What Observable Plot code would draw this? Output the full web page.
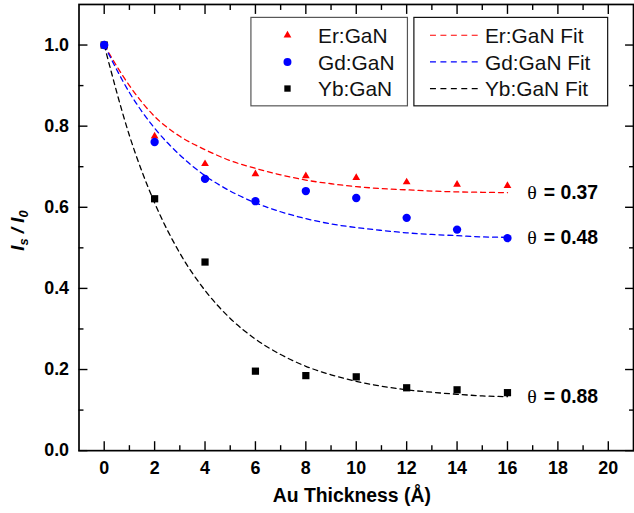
<!DOCTYPE html>
<html>
<head>
<meta charset="utf-8">
<script src="https://cdn.jsdelivr.net/npm/d3@7"></script>
<script src="https://cdn.jsdelivr.net/npm/@observablehq/plot@0.6"></script>
<style>
  html, body { margin: 0; padding: 0; background: #fff; overflow: hidden; }
  #chart { position: relative; width: 634px; height: 513px; overflow: hidden; }
</style>
</head>
<body>
<div id="chart"></div>
<script>
// Au thickness (Å) at which the normalised intensity was measured
const thickness = [0, 2, 4, 6, 8, 10, 12, 14, 16];

// Measured Is / I0 for each rare-earth doped GaN sample
const erGaN = [1.0, 0.775, 0.707, 0.682, 0.677, 0.673, 0.662, 0.656, 0.653];
const gdGaN = [1.0, 0.761, 0.670, 0.615, 0.640, 0.623, 0.574, 0.545, 0.524];
const ybGaN = [1.0, 0.621, 0.465, 0.196, 0.185, 0.182, 0.155, 0.150, 0.143];

// Fitted curves, sampled every 1 Å
const fitThickness = [0, 1, 2, 3, 4, 5, 6, 7, 8, 9, 10, 11, 12, 13, 14, 15, 16];
const erFit = [1.0, 0.900, 0.824, 0.775, 0.742, 0.715, 0.696, 0.680, 0.667, 0.658, 0.651, 0.646, 0.643, 0.640, 0.638, 0.637, 0.636];
const gdFit = [1.0, 0.883, 0.795, 0.729, 0.678, 0.640, 0.611, 0.589, 0.572, 0.559, 0.550, 0.543, 0.537, 0.533, 0.530, 0.527, 0.526];
const ybFit = [1.0, 0.777, 0.611, 0.487, 0.395, 0.326, 0.275, 0.237, 0.208, 0.187, 0.171, 0.159, 0.150, 0.144, 0.139, 0.135, 0.133];

// Fitted θ for each sample
const thetas = ["0.37", "0.48", "0.88"];

const seriesNames = ["Er:GaN", "Gd:GaN", "Yb:GaN"];
const fitNames = ["Er:GaN Fit", "Gd:GaN Fit", "Yb:GaN Fit"];
const seriesColors = ["#ff0000", "#0000ff", "#000000"];

// Axis ticks and their labels
const xMajor = [0, 2, 4, 6, 8, 10, 12, 14, 16, 18, 20];
const xMinor = [1, 3, 5, 7, 9, 11, 13, 15, 17, 19];
const xTickLabels = ["0", "2", "4", "6", "8", "10", "12", "14", "16", "18", "20"];
const yMajor = [0, 0.2, 0.4, 0.6, 0.8, 1.0];
const yMinor = [0.1, 0.3, 0.5, 0.7, 0.9];
const yTickLabels = ["0.0", "0.2", "0.4", "0.6", "0.8", "1.0"];

const points = (ys, name) => thickness.map((x, i) => ({x, y: ys[i], series: name}));
const curve = (ys, name) => fitThickness.map((x, i) => ({x, y: ys[i], series: name}));

const erPts = points(erGaN, seriesNames[0]);
const gdPts = points(gdGaN, seriesNames[1]);
const ybPts = points(ybGaN, seriesNames[2]);
const fits = [erFit, gdFit, ybFit];
const fitRows = fits.flatMap((f, k) => curve(f, fitNames[k]));
const thetaRows = fits.map((f, k) => ({
  x: fitThickness[fitThickness.length - 1],
  y: f[f.length - 1],
  theta: thetas[k]
}));

const FONT = "'Liberation Sans', Arial, Helvetica, sans-serif";
const tickW = 1.4;

const tickAxes = [];
for (const anchor of ["bottom", "top"]) {
  tickAxes.push(Plot.axisX(xMajor, {anchor, tickSize: -9, tickFormat: () => "", label: null, strokeWidth: tickW}));
  tickAxes.push(Plot.axisX(xMinor, {anchor, tickSize: -5, tickFormat: () => "", label: null, strokeWidth: tickW}));
}
for (const anchor of ["left", "right"]) {
  tickAxes.push(Plot.axisY(yMajor, {anchor, tickSize: -9, tickFormat: () => "", label: null, strokeWidth: tickW}));
  tickAxes.push(Plot.axisY(yMinor, {anchor, tickSize: -5, tickFormat: () => "", label: null, strokeWidth: tickW}));
}

const chart = Plot.plot({
  width: 638,
  height: 513,
  marginLeft: 79,
  marginRight: 1,
  marginTop: 4,
  marginBottom: 60,
  style: {fontFamily: FONT, background: "white", color: "black", overflow: "visible"},
  x: {domain: [-1, 21]},
  y: {domain: [0, 1.1]},
  marks: [
    ...tickAxes,
    Plot.axisX(xMajor, {
      anchor: "bottom", tickSize: 0, tickPadding: 11, label: null,
      tickFormat: (d) => xTickLabels[xMajor.indexOf(d)],
      fontSize: 18, fontWeight: "bold"
    }),
    Plot.axisY(yMajor, {
      anchor: "left", tickSize: 0, tickPadding: 10, label: null,
      tickFormat: (d) => yTickLabels[yMajor.indexOf(d)],
      fontSize: 18, fontWeight: "bold"
    }),
    Plot.frame({stroke: "black", strokeWidth: 1.7}),
    Plot.line(fitRows, {
      x: "x", y: "y", z: "series",
      stroke: (d) => seriesColors[fitNames.indexOf(d.series)],
      strokeWidth: 1.3, strokeDasharray: "5,4", curve: "monotone-x"
    }),
    Plot.dot(ybPts, {x: "x", y: "y", symbol: "square", r: 4.1, fill: seriesColors[2], stroke: "none"}),
    Plot.dot(erPts, {x: "x", y: "y", symbol: "triangle", r: 2.9, fill: seriesColors[0], stroke: "none"}),
    Plot.dot(gdPts, {x: "x", y: "y", symbol: "circle", r: 4.2, fill: seriesColors[1], stroke: "none"}),
    Plot.text(thetaRows, {
      x: "x", y: "y", text: () => "θ", dx: 20, textAnchor: "start", lineAnchor: "middle",
      fontFamily: "'Liberation Serif', 'Times New Roman', serif", fontSize: 20, fill: "black"
    }),
    Plot.text(thetaRows, {
      x: "x", y: "y", text: (d) => "= " + d.theta, dx: 36.5, textAnchor: "start", lineAnchor: "middle",
      fontFamily: FONT, fontSize: 19.5, fontWeight: "bold", fill: "black"
    })
  ]
});

document.getElementById("chart").appendChild(chart);

// Axis titles and legends drawn into the same SVG
const svg = d3.select(chart);

const yTitle = svg.append("text")
  .attr("transform", "translate(24,232) rotate(-90)")
  .attr("text-anchor", "middle")
  .style("font-family", FONT)
  .style("font-weight", "bold")
  .style("font-style", "italic")
  .style("font-size", "19px")
  .attr("fill", "black");
yTitle.append("tspan").text("I");
yTitle.append("tspan").attr("dy", 4).style("font-size", "13px").text("s");
yTitle.append("tspan").attr("dy", -4).text(" / I");
yTitle.append("tspan").attr("dy", 4).style("font-size", "13px").text("0");

svg.append("text")
  .attr("x", 354).attr("y", 505)
  .attr("text-anchor", "middle")
  .style("font-family", FONT)
  .style("font-weight", "bold")
  .style("font-size", "19.5px")
  .attr("fill", "black")
  .text("Au Thickness (Å)");

const legend = svg.append("g")
  .attr("text-anchor", "start")
  .style("font-family", FONT)
  .style("font-size", "21px");
const rowY = [35.5, 62.3, 89.1];
const symbols = [d3.symbolTriangle, d3.symbolCircle, d3.symbolSquare];
const symbolR = [2.9, 4.0, 3.6];

legend.append("rect").attr("x", 252.5).attr("y", 17.5).attr("width", 157.5).attr("height", 89)
  .attr("fill", "white").attr("stroke", "#555").attr("stroke-width", 1.2);
legend.append("rect").attr("x", 416.5).attr("y", 17.5).attr("width", 195).attr("height", 89)
  .attr("fill", "white").attr("stroke", "#111").attr("stroke-width", 1.2);

seriesNames.forEach((name, k) => {
  legend.append("path")
    .attr("transform", `translate(289.3,${rowY[k]})`)
    .attr("d", d3.symbol(symbols[k], symbolR[k] * symbolR[k] * Math.PI)())
    .attr("fill", seriesColors[k]);
  legend.append("text").attr("x", 320).attr("y", rowY[k] + 7.8)
    .attr("text-anchor", "start").attr("fill", "#111").text(name);

  legend.append("line")
    .attr("x1", 432.7).attr("x2", 481).attr("y1", rowY[k]).attr("y2", rowY[k])
    .attr("stroke", seriesColors[k]).attr("stroke-width", 1.2).attr("stroke-dasharray", "6,4.5");
  legend.append("text").attr("x", 488).attr("y", rowY[k] + 7.8)
    .attr("text-anchor", "start").attr("fill", "#111").text(fitNames[k]);
});
</script>
</body>
</html>
